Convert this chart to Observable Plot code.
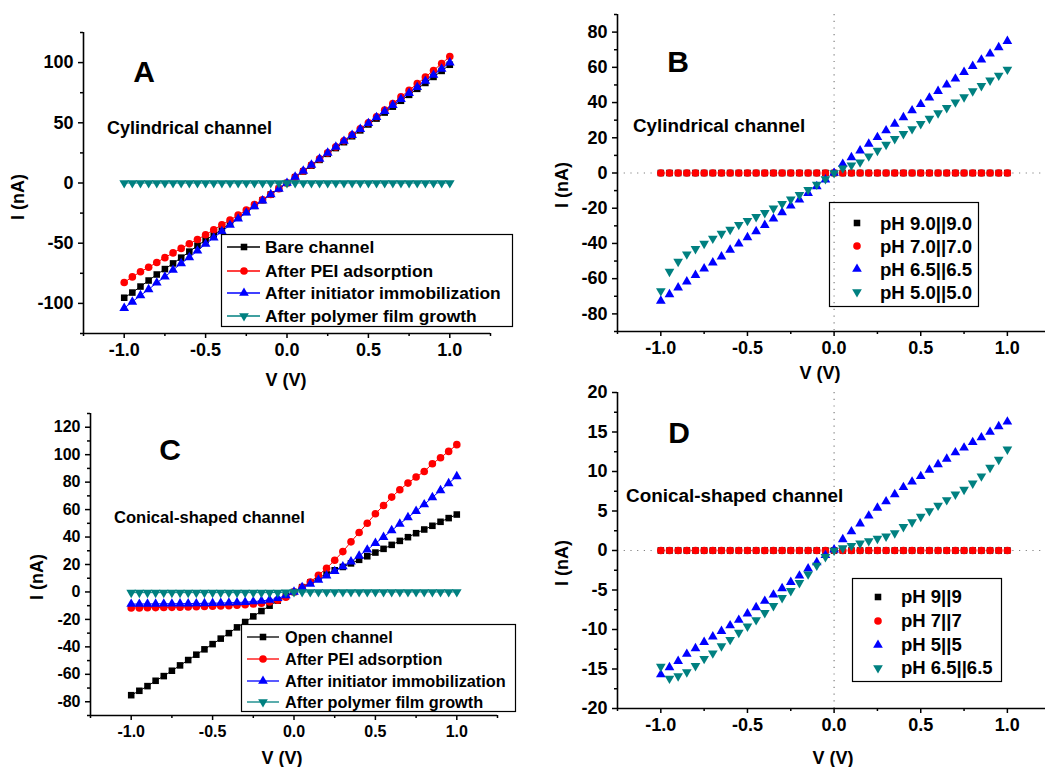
<!DOCTYPE html>
<html><head><meta charset="utf-8">
<script src="https://cdn.jsdelivr.net/npm/d3@7"></script>
<script src="https://cdn.jsdelivr.net/npm/@observablehq/plot@0.6"></script>
<style>
body{margin:0;background:#fff;}
#wrap{position:relative;width:1045px;height:767px;overflow:hidden;background:#fff;font-family:"Liberation Sans",Arial,sans-serif;font-weight:bold;}
.panel{position:absolute;}
.panel svg{overflow:visible;}
.lbl{position:absolute;white-space:nowrap;color:#000;font-weight:bold;line-height:1;}
</style></head><body><div id="wrap"></div>
<script>
// ---------- data ----------
const voltage = [-1.0,-0.95,-0.9,-0.85,-0.8,-0.75,-0.7,-0.65,-0.6,-0.55,-0.5,-0.45,-0.4,-0.35,-0.3,-0.25,-0.2,-0.15,-0.1,-0.05,0,
  0.05,0.1,0.15,0.2,0.25,0.3,0.35,0.4,0.45,0.5,0.55,0.6,0.65,0.7,0.75,0.8,0.85,0.9,0.95,1.0];

// Panel A (cylindrical channel, modification steps)
const aBare = [-95.3,-91,-86,-81,-76,-71.5,-66.8,-62,-57,-52,-47.5,-43,-38.5,-33.5,-28.8,-24,-19,-14.3,-9.5,-4.8,0,
  4.8,9.6,14.4,19.2,24.2,29,33.9,38.8,43.7,48.6,53.5,58.5,63.4,68.3,73.2,78.2,83.1,88.1,93.1,98.2];
const aPEI = [-82.6,-78,-73.7,-70,-66,-62,-58,-54.3,-50.5,-46.9,-43,-38.8,-34.7,-30.8,-26.6,-22.5,-18,-13.9,-9.5,-4.7,0,
  5,10,15,20,25,30,35,40,45,50,55,60.5,66,71.5,77,82.5,88,93.5,99.2,105];
const aInit = [-104,-98.7,-93.4,-88.4,-82.9,-77.9,-72.3,-66.8,-61.8,-56.3,-50.7,-45.5,-40.2,-34.9,-29.7,-24.7,-19.4,-14.7,-9.5,-5,0,
  5.1,10.1,15,20,25,30,34.9,39.8,44.7,49.6,54.6,59.6,64.6,69.6,74.6,79.6,84.7,89.7,94.8,100];
const aPoly = [0,0,0,0,0,0,0,0,0,0,0,0,0,0,0,0,0,0,0,0,0,
  0,0,0,0,0,0,0,0,0,0,0,0,0,0,0,0,0,0,0,0];

// Panel B (cylindrical channel, pH)
const bPH9 = [0,0,0,0,0,0,0,0,0,0,0,0,0,0,0,0,0,0,0,0,0,
  0,0,0,0,0,0,0,0,0,0,0,0,0,0,0,0,0,0,0,0];
const bPH7 = [0,0,0,0,0,0,0,0,0,0,0,0,0,0,0,0,0,0,0,0,0,
  0,0,0,0,0,0,0,0,0,0,0,0,0,0,0,0,0,0,0,0];
const bPH65 = [-72.6,-68.9,-65.1,-61.7,-58,-54.3,-50.9,-47.5,-43.7,-40.2,-36.6,-33.2,-29.6,-26,-22.4,-18.6,-15.2,-11.4,-7.6,-3.8,0,
  5.1,8.9,12.7,16.5,20.3,24.1,27.9,31.6,35.5,39,42.7,46.5,50.1,53.5,57.3,60.7,64.3,67.7,71.3,74.9];
const bPH5 = [-67,-56,-50.3,-46.1,-43.1,-40.1,-37.2,-34.4,-32.1,-29.4,-27.1,-24.9,-22.6,-20.1,-17.5,-15,-12.4,-9.5,-6.5,-3.4,0,
  2.7,4.4,6.1,9.5,12.7,16.1,19.4,22.2,25,27.9,30.9,34,37,40.2,43.1,46.5,49.5,52.6,55.4,58.8];

// Panel C (conical channel, modification steps)
const cOpen = [-75.2,-72,-68.6,-64.7,-61.3,-57.4,-53.5,-49.6,-45.7,-41.8,-38,-34,-30,-25.8,-21.9,-17.8,-13.9,-10,-6.3,-3.2,0,
  3.5,6.9,10.2,13.1,15.8,18.2,20.8,23.4,26,28.7,31.4,34.3,37.2,39.9,42.8,45.5,48.2,51.1,53.8,56.4];
const cPEI = [-11.7,-11.6,-11.5,-11.4,-11.3,-11.2,-11.1,-11,-10.8,-10.6,-10.4,-10.2,-10,-9.7,-9.3,-8.8,-8.2,-7.3,-6,-3.9,0,
  3.4,7.3,12.2,17.3,23.1,29.4,36.5,43.3,50.1,57,63,69.1,74.5,79.3,83.7,87.8,93.4,97.8,102.4,107.3];
const cInit = [-8.8,-8.8,-8.7,-8.7,-8.6,-8.6,-8.5,-8.5,-8.4,-8.3,-8.2,-8.1,-7.9,-7.7,-7.4,-7,-6.5,-5.8,-4.6,-2.6,0,
  3.4,5.8,8.8,11.9,15.1,18.5,22.1,26.3,30.7,35.5,39.9,44.8,49.6,54.3,58.9,63.7,68.9,74,79.1,84.2];
const cPoly = [-0.5,-0.5,-0.5,-0.5,-0.5,-0.5,-0.5,-0.5,-0.5,-0.5,-0.5,-0.5,-0.5,-0.5,-0.5,-0.5,-0.5,-0.5,-0.4,-0.2,0,
  0,0,0,0,0,0,0,0,0,0,0,0,0,0,0,0,0,0,0,0];

// Panel D (conical channel, pH)
const dPH9 = [0,0,0,0,0,0,0,0,0,0,0,0,0,0,0,0,0,0,0,0,0,
  0,0,0,0,0,0,0,0,0,0,0,0,0,0,0,0,0,0,0,0];
const dPH7 = [0,0,0,0,0,0,0,0,0,0,0,0,0,0,0,0,0,0,0,0,0,
  0,0,0,0,0,0,0,0,0,0,0,0,0,0,0,0,0,0,0,0];
const dPH5 = [-15.7,-14.8,-14,-13.1,-12.4,-11.6,-10.9,-10.2,-9.5,-8.8,-8,-7.2,-6.4,-5.6,-4.8,-4,-3.2,-2.3,-1.5,-0.6,0.1,
  1.4,2.4,3.4,4.4,5.4,6.2,7.1,8,8.7,9.4,10.2,10.9,11.6,12.4,13,13.7,14.3,15,15.7,16.3];
const dPH65 = [-14.7,-16.2,-15.9,-15.4,-14.6,-13.7,-13,-12.1,-11.3,-10.4,-9.6,-8.8,-7.9,-7,-6,-5.1,-4.1,-3,-1.9,-0.8,0,
  0.3,0.6,0.9,1.2,1.5,1.8,2.2,3,3.6,4.3,5,5.7,6.4,7.1,7.7,8.5,9.4,10.5,11.5,12.8];

// labels
const stepLabelsA = ["Bare channel","After PEI adsorption","After initiator immobilization","After polymer film growth"];
const stepLabelsC = ["Open channel","After PEI adsorption","After initiator immobilization","After polymer film growth"];
const pHLabelsB = ["pH 9.0||9.0","pH 7.0||7.0","pH 6.5||6.5","pH 5.0||5.0"];
const pHLabelsD = ["pH 9||9","pH 7||7","pH 5||5","pH 6.5||6.5"];
const xTicks = [-1.0,-0.5,0,0.5,1.0];
const xMinorTicks = [-1.25,-0.75,-0.25,0.25,0.75,1.25];

// ---------- styling ----------
const BLACK="#000000", RED="#ff0000", BLUE="#0000ff", TEAL="#008080";
const FONT = "'Liberation Sans', Arial, sans-serif";
const triDown = {draw(ctx, size){ const y = Math.sqrt(size/(Math.sqrt(3)*3)); const s3=Math.sqrt(3);
  ctx.moveTo(0, 2*y); ctx.lineTo(-s3*y, -y); ctx.lineTo(s3*y, -y); ctx.closePath(); }};
const SYM = {square:{symbol:"square", r:3.7}, circle:{symbol:"circle", r:3.8}, up:{symbol:"triangle", r:3.6}, down:{symbol:triDown, r:3.6}};

const wrap = document.getElementById("wrap");

function makePanel(cfg){
  const marks = [];
  if (cfg.zeroLines){
    marks.push(Plot.ruleX([0], {stroke:"#808080", strokeWidth:1.2, strokeDasharray:"1.2,5.5"}));
    marks.push(Plot.ruleY([0], {stroke:"#808080", strokeWidth:1.2, strokeDasharray:"1.2,5.5"}));
  }
  for (const s of cfg.series){
    const rows = voltage.map((v,i)=>({v, cur:s.values[i]}));
    if (cfg.lines) marks.push(Plot.line(rows, {x:"v", y:"cur", stroke:s.color, strokeWidth:1}));
    marks.push(Plot.dot(rows, {x:"v", y:"cur", symbol:SYM[s.shape].symbol, r:SYM[s.shape].r, fill:s.color, stroke:"none"}));
  }
  const xMin = cfg.xDomain[0], xMax = cfg.xDomain[1];
  marks.push(
    Plot.axisX({ticks:xTicks, tickSize:5, tickPadding:5, tickFormat:d=>d.toFixed(1), label:null, stroke:BLACK, strokeWidth:1.5, fill:BLACK}),
    Plot.axisX({ticks:xMinorTicks.filter(t=>t>=xMin && t<=xMax), tickSize:3, tickFormat:()=>"", label:null, stroke:BLACK, strokeWidth:1.5}),
    Plot.axisY({ticks:cfg.yTicks, tickSize:5, tickPadding:5, tickFormat:d=>String(d), label:null, stroke:BLACK, strokeWidth:1.5, fill:BLACK}),
    Plot.axisY({ticks:cfg.yMinor, tickSize:3, tickFormat:()=>"", label:null, stroke:BLACK, strokeWidth:1.5}),
    Plot.ruleY([cfg.yDomain[0]], {stroke:BLACK, strokeWidth:1.6}),
    Plot.ruleX([xMin], {stroke:BLACK, strokeWidth:1.6})
  );
  const p = Plot.plot({
    width:cfg.width, height:cfg.height,
    marginLeft:cfg.m[0], marginTop:cfg.m[1], marginRight:cfg.m[2], marginBottom:cfg.m[3],
    x:{domain:cfg.xDomain}, y:{domain:cfg.yDomain},
    style:{background:"transparent", fontFamily:FONT, fontSize:cfg.fs+"px", fontWeight:"bold", color:"#000", overflow:"visible"},
    marks
  });
  const div = document.createElement("div");
  div.className="panel"; div.style.left=cfg.left+"px"; div.style.top=cfg.top+"px";
  div.appendChild(p); wrap.appendChild(div);
}

function legend(cfg){
  const svg = d3.select(wrap).append("svg").attr("class","panel")
    .style("left",cfg.left+"px").style("top",cfg.top+"px").style("overflow","visible")
    .attr("width",cfg.w).attr("height",cfg.h);
  svg.append("rect").attr("x",0.5).attr("y",0.5).attr("width",cfg.w-1).attr("height",cfg.h-1)
    .attr("fill",cfg.fill).attr("stroke","#000").attr("stroke-width",1.2);
  cfg.entries.forEach((e,i)=>{
    const y = cfg.rows[i];
    if (cfg.line) svg.append("line").attr("x1",cfg.line[0]).attr("x2",cfg.line[1]).attr("y1",y).attr("y2",y).attr("stroke",e.color).attr("stroke-width",1.3);
    const sh = SYM[e.shape];
    const sym = typeof sh.symbol==="string" ? {square:d3.symbolSquare,circle:d3.symbolCircle,triangle:d3.symbolTriangle}[sh.symbol] : sh.symbol;
    svg.append("path").attr("d", d3.symbol(sym, Math.PI*sh.r*sh.r)()).attr("transform",`translate(${cfg.mx},${y})`).attr("fill",e.color);
    svg.append("text").attr("x",cfg.tx).attr("y",y).attr("dy","0.35em").attr("font-size",cfg.fs+"px").attr("font-weight","bold")
      .attr("font-family",FONT).attr("fill","#000").text(e.label);
  });
}

function label(text, x, y, fs, opts={}){
  const d = document.createElement("div");
  d.className="lbl"; d.textContent=text; d.style.fontSize=fs+"px";
  d.style.left=x+"px"; d.style.top=y+"px";
  let t = opts.anchorLeft ? "translate(0,-50%)" : "translate(-50%,-50%)";
  if (opts.rotate) t += " rotate(-90deg)";
  d.style.transform=t;
  wrap.appendChild(d);
}

// ---------- panels ----------
makePanel({left:0, top:0, width:520, height:390, m:[83,32,30,57], fs:18,
  xDomain:[-1.25,1.25], yDomain:[-125,125], yTicks:[-100,-50,0,50,100], yMinor:[-125,-75,-25,25,75,125], lines:true,
  series:[{values:aBare,color:BLACK,shape:"square"},{values:aPEI,color:RED,shape:"circle"},{values:aInit,color:BLUE,shape:"up"},{values:aPoly,color:TEAL,shape:"down"}]});
makePanel({left:520, top:0, width:525, height:390, m:[97,14,0,59], fs:18,
  xDomain:[-1.25,1.22], yDomain:[-90,90], yTicks:[-80,-60,-40,-20,0,20,40,60,80], yMinor:[-90,-70,-50,-30,-10,10,30,50,70,90], zeroLines:true,
  series:[{values:bPH9,color:BLACK,shape:"square"},{values:bPH7,color:RED,shape:"circle"},{values:bPH65,color:BLUE,shape:"up"},{values:bPH5,color:TEAL,shape:"down"}]});
makePanel({left:0, top:390, width:520, height:377, m:[90,23,23,52], fs:16,
  xDomain:[-1.25,1.25], yDomain:[-90,130], yTicks:[-80,-60,-40,-20,0,20,40,60,80,100,120], yMinor:[-90,-70,-50,-30,-10,10,30,50,70,90,110,130], lines:true,
  series:[{values:cOpen,color:BLACK,shape:"square"},{values:cPEI,color:RED,shape:"circle"},{values:cInit,color:BLUE,shape:"up"},{values:cPoly,color:TEAL,shape:"down"}]});
makePanel({left:520, top:380, width:525, height:387, m:[97,12,0,59], fs:18,
  xDomain:[-1.25,1.22], yDomain:[-20,20], yTicks:[-20,-15,-10,-5,0,5,10,15,20], yMinor:[-17.5,-12.5,-7.5,-2.5,2.5,7.5,12.5,17.5], zeroLines:true,
  series:[{values:dPH9,color:BLACK,shape:"square"},{values:dPH7,color:RED,shape:"circle"},{values:dPH5,color:BLUE,shape:"up"},{values:dPH65,color:TEAL,shape:"down"}]});

// ---------- legends ----------
const shapes4 = ["square","circle","up","down"], colors4=[BLACK,RED,BLUE,TEAL];
legend({left:221, top:234, w:292, h:93, fill:"#fff", line:[6,39], mx:23, tx:44, rows:[13,37,59,82], fs:17.4,
  entries:stepLabelsA.map((l,i)=>({label:l,color:colors4[i],shape:shapes4[i]}))});
legend({left:829, top:202, w:150, h:105, fill:"none", mx:28, tx:51, rows:[21,44,67,90], fs:18.6,
  entries:pHLabelsB.map((l,i)=>({label:l,color:colors4[i],shape:shapes4[i]}))});
legend({left:241, top:624, w:275, h:88, fill:"#fff", line:[6,38], mx:22, tx:44, rows:[13,35,57,78], fs:16.3,
  entries:stepLabelsC.map((l,i)=>({label:l,color:colors4[i],shape:shapes4[i]}))});
legend({left:852, top:578, w:150, h:104, fill:"none", mx:26, tx:49, rows:[19,43,67,90], fs:18.5,
  entries:pHLabelsD.map((l,i)=>({label:l,color:colors4[i],shape:shapes4[i]}))});

// ---------- text ----------
label("A",144,72,30); label("B",678,62,30); label("C",170,450,30); label("D",679,433,30);
label("Cylindrical channel",107,128,18,{anchorLeft:true});
label("Cylindrical channel",633,126,18.8,{anchorLeft:true});
label("Conical-shaped channel",114,518,16.6,{anchorLeft:true});
label("Conical-shaped channel",626,496,18.9,{anchorLeft:true});
label("I (nA)",18,197,18,{rotate:true}); label("V (V)",286,380,18);
label("I (nA)",562,185,18,{rotate:true}); label("V (V)",820,373,18);
label("I (nA)",37,577,18,{rotate:true}); label("V (V)",282,758,18);
label("I (nA)",562,563,18,{rotate:true}); label("V (V)",833,758,18);
</script></body></html>
